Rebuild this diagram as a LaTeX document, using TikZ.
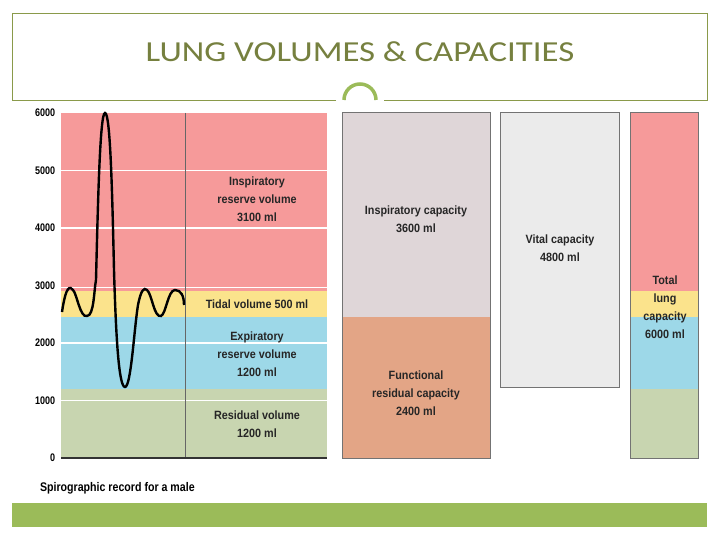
\documentclass[tikz,border=0pt]{standalone}
\usepackage{fontspec}
\setmainfont{Liberation Sans}
\newfontfamily\titlefont{Carlito}
\begin{document}
\begin{tikzpicture}[x=1pt,y=-1pt,
  lbl/.style={font=\fontsize{12}{18}\selectfont\bfseries, align=center, text=black!85, xscale=0.9},
  ax/.style={font=\fontsize{11}{12}\selectfont\bfseries, anchor=east, xscale=0.82},
  wline/.style={white, line width=1.2pt}]
\definecolor{pinkc}{HTML}{F69A9A}
\definecolor{yelc}{HTML}{FBE38C}
\definecolor{bluec}{HTML}{9DD8E8}
\definecolor{greenc}{HTML}{C8D5B0}
\definecolor{icc}{HTML}{DFD6D8}
\definecolor{frcc}{HTML}{E3A586}
\definecolor{vcc}{HTML}{EBEBEB}
\definecolor{olive}{HTML}{8A9A4A}
\definecolor{titlec}{HTML}{76803F}
\definecolor{barg}{HTML}{9BBB59}
\useasboundingbox (0,0) rectangle (720,540);
\fill[white] (0,0) rectangle (720,540);
% title frame
\draw[olive, line width=0.6pt] (12,100) -- (12,13) -- (707,13) -- (707,100) -- (384,100);
\draw[olive, line width=0.6pt] (336,100) -- (12,100);
\draw[barg, line width=3.5pt] (344,100) arc[start angle=180,end angle=360,radius=16];
\node[font=\titlefont\fontsize{29}{32}\selectfont, text=titlec, xscale=1.2] (title) at (360,52) {LUNG VOLUMES \& CAPACITIES};
% chart bands
\fill[greenc] (61,458) rectangle (327,389);
\fill[bluec] (61,389) rectangle (327,317);
\fill[yelc] (61,317) rectangle (327,291);
\fill[pinkc] (61,291) rectangle (327,113);
\foreach \v in {1000,2000,4000,5000} \draw[wline] (61,{458-0.0575*\v}) -- (327,{458-0.0575*\v});
\draw[wline, line width=0.8pt] (61,287) -- (327,287);
\draw[black!60, line width=0.5pt] (185,113) -- (185,458);
\draw[black!80, line width=1.6pt] (61,458) -- (327,458);
\foreach \v in {0,1000,...,6000} \node[ax] (t\v) at (58,{458-0.0575*\v}) {\v};
% spirogram
\draw[black, line width=2.4pt] (62,312) .. controls (66,285) and (70,286) .. (73,290)
 .. controls (77,294) and (80,318) .. (87,316)
 .. controls (94,316) and (94,290) .. (96,280)
 .. controls (98,200) and (100,113) .. (105,113)
 .. controls (110,113) and (112,180) .. (114,270)
 .. controls (116,340) and (119,387) .. (125,387)
 .. controls (131,387) and (134,330) .. (138,305)
 .. controls (141,290) and (144,287) .. (147,290)
 .. controls (152,294) and (154,318) .. (161,316)
 .. controls (166,314) and (168,290) .. (175,290)
 .. controls (181,290) and (184,296) .. (184,305);
% labels
\node[lbl] (irv) at (257,199) {Inspiratory\\reserve volume\\3100 ml};
\node[lbl] (tv) at (257,304) {Tidal volume 500 ml};
\node[lbl] (erv) at (257,354) {Expiratory\\reserve volume\\1200 ml};
\node[lbl] (rv) at (257,424) {Residual volume\\1200 ml};
\node[font=\fontsize{12.5}{14}\selectfont\bfseries, anchor=west, xscale=0.85] (cap) at (37,488) {Spirographic record for a male};
% capacity boxes
\fill[icc] (342,112) rectangle (490,317);
\fill[frcc] (342,317) rectangle (490,458);
\draw[black!55, line width=0.8pt] (342,112) rectangle (490,458);
\node[lbl] (ic) at (416,219) {Inspiratory capacity\\3600 ml};
\node[lbl] (frc) at (416,393) {Functional\\residual capacity\\2400 ml};
\fill[vcc] (500,112) rectangle (619,387);
\draw[black!55, line width=0.8pt] (500,112) rectangle (619,387);
\node[lbl] (vc) at (560,248) {Vital capacity\\4800 ml};
\fill[greenc] (630,458) rectangle (698,389);
\fill[bluec] (630,389) rectangle (698,317);
\fill[yelc] (630,317) rectangle (698,291);
\fill[pinkc] (630,291) rectangle (698,112);
\draw[black!55, line width=0.8pt] (630,112) rectangle (698,458);
\node[lbl] (tlc) at (665,307) {Total\\lung\\capacity\\6000 ml};
% bottom bar
\fill[barg] (12,503) rectangle (707,527);
\end{tikzpicture}
\end{document}
